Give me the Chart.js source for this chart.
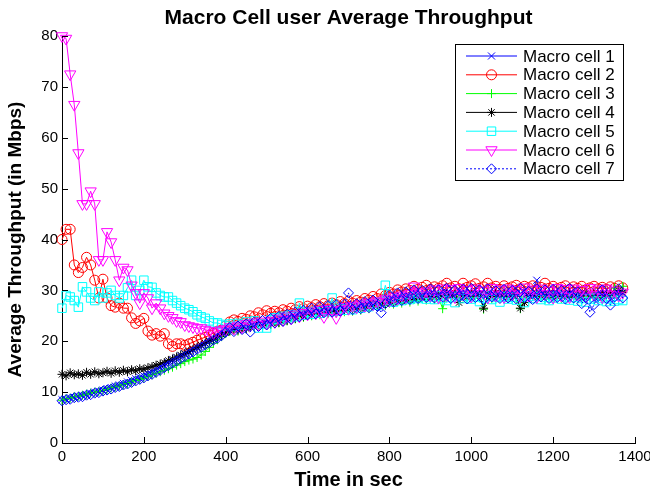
<!DOCTYPE html>
<html>
<head>
<meta charset="utf-8">
<script src="https://cdn.jsdelivr.net/npm/chart.js"></script>
<style>
  html, body { margin: 0; padding: 0; background: #fff; }
</style>
</head>
<body>
<canvas id="chart" width="650" height="487"></canvas>
<script>
const chartTitle = "Macro Cell user Average Throughput";
const xTitle = "Time in sec";
const yTitle = "Average Throughput (in Mbps)";
const labels = ["Macro cell 1", "Macro cell 2", "Macro cell 3", "Macro cell 4", "Macro cell 5", "Macro cell 6", "Macro cell 7"];

// sample times (sec)
const times = [
  0, 10, 20, 30, 40, 50, 60, 70, 80, 90,
  100, 110, 120, 130, 140, 150, 160, 170, 180, 190,
  200, 210, 220, 230, 240, 250, 260, 270, 280, 290,
  300, 310, 320, 330, 340, 350, 360, 370, 380, 390,
  400, 410, 420, 430, 440, 450, 460, 470, 480, 490,
  500, 510, 520, 530, 540, 550, 560, 570, 580, 590,
  600, 610, 620, 630, 640, 650, 660, 670, 680, 690,
  700, 710, 720, 730, 740, 750, 760, 770, 780, 790,
  800, 810, 820, 830, 840, 850, 860, 870, 880, 890,
  900, 910, 920, 930, 940, 950, 960, 970, 980, 990,
  1000, 1010, 1020, 1030, 1040, 1050, 1060, 1070, 1080, 1090,
  1100, 1110, 1120, 1130, 1140, 1150, 1160, 1170, 1180, 1190,
  1200, 1210, 1220, 1230, 1240, 1250, 1260, 1270, 1280, 1290,
  1300, 1310, 1320, 1330, 1340, 1350, 1360, 1370
];

const cell1 = [
  8.5, 8.6, 8.9, 9.0, 9.2, 9.4, 9.5, 9.8, 10.0, 10.2,
  10.4, 10.7, 10.9, 11.2, 11.4, 11.7, 12.0, 12.3, 12.6, 12.9,
  13.2, 13.6, 14.0, 14.4, 14.9, 15.3, 15.8, 16.2, 16.7, 17.1,
  17.5, 17.9, 18.3, 18.8, 19.2, 19.6, 20.1, 20.5, 21.0, 21.4,
  22.1, 22.5, 22.3, 22.9, 22.6, 23.2, 23.0, 23.6, 23.4, 23.9,
  23.6, 24.3, 24.0, 24.6, 24.3, 25.1, 24.7, 25.4, 25.2, 25.8,
  25.5, 26.1, 25.7, 26.3, 25.9, 26.5, 26.1, 26.7, 26.2, 26.9,
  26.4, 27.0, 26.6, 27.3, 27.0, 27.6, 27.2, 28.0, 27.7, 28.4,
  28.0, 29.1, 28.3, 29.5, 28.2, 29.8, 28.6, 30.1, 28.7, 29.9,
  28.4, 30.2, 28.9, 29.8, 28.3, 30.3, 29.0, 29.9, 28.5, 30.4,
  28.8, 30.0, 28.4, 30.2, 29.1, 28.6, 30.3, 28.9, 30.0, 28.4,
  29.9, 30.4, 28.7, 29.8, 28.3, 30.2, 32.0, 28.8, 30.1, 28.6,
  30.3, 28.8, 29.9, 28.4, 30.2, 28.7, 30.0, 28.5, 30.4, 28.9,
  30.0, 28.6, 30.3, 28.8, 30.1, 28.7, 30.2, 29.4
];

const cell2 = [
  40.0, 42.0, 42.0, 35.0, 33.5, 34.5, 36.5, 35.0, 32.0, 28.5,
  32.2, 28.5, 27.0, 26.7, 27.5, 26.5, 26.5, 24.6, 23.5, 24.0,
  24.5, 22.0, 21.2, 21.5, 21.0, 21.5, 19.5, 19.0, 19.5, 19.5,
  19.2, 19.5, 19.8, 20.2, 20.5, 20.8, 21.2, 21.6, 22.0, 22.2,
  23.0, 23.8, 24.2, 23.9, 24.5, 24.3, 25.0, 24.8, 25.6, 25.2,
  26.0, 25.5, 25.9, 25.6, 26.2, 25.9, 26.5, 26.2, 26.8, 26.4,
  26.9, 26.6, 27.2, 26.8, 27.4, 27.0, 27.5, 27.2, 27.8, 27.4,
  27.9, 27.5, 28.0, 27.7, 28.4, 28.1, 28.8, 28.4, 29.3, 29.0,
  29.6, 29.3, 30.1, 29.7, 30.3, 30.0, 30.8, 30.2, 30.6, 31.0,
  30.2, 30.7, 30.4, 30.9, 31.4, 30.5, 30.8, 30.3, 31.4, 30.6,
  30.9, 31.3, 30.4, 30.7, 31.4, 30.5, 30.8, 30.2, 30.9, 30.4,
  30.7, 31.0, 30.3, 30.8, 30.5, 30.9, 30.2, 30.6, 31.4, 30.4,
  30.8, 30.3, 30.6, 30.9, 30.2, 30.7, 30.4, 30.8, 30.1, 30.5,
  30.8, 30.3, 30.6, 30.2, 30.7, 30.4, 30.9, 30.5
];

const cell3 = [
  8.4, 8.7, 8.8, 9.1, 9.2, 9.4, 9.6, 9.8, 10.0, 10.1,
  10.3, 10.5, 10.8, 11.0, 11.2, 11.5, 11.7, 12.0, 12.3, 12.5,
  12.8, 13.1, 13.4, 13.7, 14.0, 14.3, 14.6, 14.9, 15.3, 15.6,
  16.0, 16.3, 16.5, 16.8, 17.3, 18.0, 18.8, 19.6, 20.3, 20.9,
  21.5, 21.9, 22.3, 22.0, 22.6, 22.4, 22.9, 22.7, 23.2, 23.0,
  23.5, 23.3, 23.8, 23.6, 24.2, 24.0, 24.6, 24.4, 25.0, 24.7,
  25.3, 25.0, 25.5, 25.2, 25.7, 25.4, 25.9, 25.6, 26.1, 25.8,
  26.2, 25.9, 26.4, 26.1, 26.7, 26.4, 27.0, 26.8, 27.3, 27.0,
  27.5, 27.3, 27.8, 27.5, 28.0, 27.7, 28.2, 27.9, 28.4, 28.1,
  28.5, 28.2, 28.6, 26.4, 28.8, 28.4, 28.9, 28.5, 28.7, 28.3,
  28.8, 28.4, 28.9, 26.3, 28.6, 28.3, 28.8, 28.5, 29.0, 28.6,
  28.9, 28.4, 26.4, 28.7, 28.5, 29.0, 28.6, 28.8, 28.3, 28.9,
  28.5, 28.8, 28.4, 29.0, 28.6, 28.9, 28.3, 28.7, 29.1, 28.8,
  28.5, 28.9, 28.6, 29.0, 28.7, 30.5, 29.0, 30.8
];

const cell4 = [
  13.5, 13.2, 13.8, 13.4, 13.6, 13.3, 13.9, 13.5, 14.0, 13.6,
  13.8, 14.1, 13.7, 14.2, 13.9, 14.3, 14.0, 14.4, 14.2, 14.6,
  14.5, 14.8, 15.0, 15.3, 15.5, 15.8, 16.2, 16.5, 16.9, 17.3,
  17.6, 18.0, 18.4, 18.8, 19.2, 19.6, 20.0, 20.4, 20.9, 21.3,
  21.7, 22.1, 22.4, 22.2, 22.7, 22.5, 23.0, 22.8, 23.3, 23.1,
  23.6, 23.4, 23.9, 23.7, 24.3, 24.1, 24.7, 24.5, 25.1, 24.9,
  25.4, 25.2, 25.7, 25.5, 25.9, 25.7, 26.1, 25.9, 26.3, 26.1,
  26.5, 26.3, 26.7, 26.5, 27.0, 26.8, 27.3, 27.1, 27.6, 27.4,
  27.9, 27.7, 28.2, 28.0, 28.5, 28.2, 28.7, 28.4, 28.9, 28.6,
  29.0, 28.7, 29.1, 28.8, 29.3, 28.9, 29.2, 27.6, 29.1, 28.8,
  29.3, 28.9, 29.2, 26.5, 29.1, 28.8, 29.4, 28.9, 29.2, 28.7,
  29.1, 28.8, 26.5, 27.6, 29.0, 28.8, 29.2, 28.9, 29.4, 29.0,
  29.2, 28.8, 29.3, 28.9, 29.1, 28.7, 29.2, 28.9, 29.4, 29.0,
  29.3, 28.9, 29.2, 29.0, 29.4, 29.1, 30.0, 29.6
];

const cell5 = [
  26.5, 29.0, 28.7, 28.0, 26.7, 30.7, 29.7, 28.5, 28.0, 29.7,
  28.5, 29.5, 30.0, 29.0, 28.5, 29.0, 30.5, 32.0, 29.0, 30.0,
  32.0, 30.7, 30.6, 29.5, 29.0, 28.7, 28.7, 28.0, 27.5, 27.0,
  26.5, 26.2, 25.8, 25.2, 24.8, 24.5, 24.0, 23.6, 23.6, 23.3,
  23.0, 23.4, 22.9, 23.5, 23.2, 23.8, 23.4, 24.0, 22.6, 23.4,
  22.6, 24.2, 24.6, 24.3, 24.9, 24.6, 25.2, 24.8, 27.5, 25.1,
  25.7, 25.3, 25.9, 25.5, 26.1, 25.8, 28.5, 25.9, 26.5, 26.1,
  26.6, 26.2, 26.8, 26.5, 27.1, 26.8, 27.4, 27.1, 27.7, 31.0,
  28.0, 27.7, 28.3, 28.0, 28.5, 28.2, 28.7, 28.4, 28.8, 28.3,
  28.7, 28.2, 28.9, 28.4, 28.0, 28.6, 27.6, 28.9, 28.4, 28.8,
  28.3, 28.7, 27.8, 28.5, 28.9, 28.2, 28.6, 27.7, 28.8, 28.3,
  28.7, 28.1, 28.6, 27.6, 28.9, 28.4, 28.8, 28.2, 28.6, 28.0,
  28.5, 28.9, 28.3, 28.7, 28.1, 28.6, 27.9, 28.4, 27.7, 28.3,
  28.6, 28.0, 28.4, 27.8, 28.3, 27.9, 28.2, 28.0
];

const cell6 = [
  80.0, 79.5, 72.5, 66.5, 57.0, 47.0, 47.0, 49.5, 47.0, 36.0,
  36.0, 41.5, 39.5, 36.0, 32.0, 34.5, 34.0, 31.0, 29.5, 27.5,
  29.5, 28.5, 26.5, 27.5, 26.5, 25.5, 25.0, 24.6, 24.0, 23.8,
  23.2, 23.0, 22.8, 22.6, 22.6, 22.3, 22.0, 21.6, 22.0, 22.2,
  22.4, 22.8, 22.5, 23.1, 22.8, 23.4, 23.1, 23.7, 23.3, 23.9,
  23.5, 24.1, 23.8, 24.5, 24.2, 24.9, 24.5, 25.3, 24.9, 25.6,
  25.3, 25.9, 25.5, 26.2, 24.8, 26.4, 26.0, 24.6, 26.2, 26.8,
  26.4, 27.0, 26.7, 27.3, 27.0, 27.6, 27.3, 27.9, 27.7, 28.3,
  28.1, 28.7, 28.4, 29.0, 28.7, 29.3, 30.8, 29.6, 29.2, 29.8,
  29.0, 30.2, 28.6, 30.4, 29.1, 30.3, 28.7, 30.5, 29.2, 30.1,
  28.8, 30.4, 29.3, 30.0, 28.6, 30.5, 29.0, 30.2, 28.7, 30.4,
  29.2, 30.1, 28.8, 30.6, 29.0, 30.2, 28.7, 30.4, 29.3, 30.0,
  28.6, 30.5, 29.0, 30.3, 28.7, 30.4, 29.2, 30.1, 28.8, 30.5,
  29.1, 30.2, 28.7, 30.4, 29.2, 30.0, 29.0, 29.6
];

const cell7 = [
  8.3, 8.5, 8.6, 8.9, 9.0, 9.1, 9.4, 9.5, 9.8, 9.9,
  10.2, 10.4, 10.6, 10.9, 11.1, 11.4, 11.6, 11.9, 12.2, 12.5,
  12.8, 13.2, 13.5, 13.9, 14.3, 14.8, 15.2, 15.7, 16.1, 16.6,
  17.0, 17.5, 17.9, 18.4, 18.8, 19.3, 19.7, 20.2, 20.6, 21.1,
  21.8, 22.7, 21.9, 23.0, 22.3, 23.4, 21.8, 23.8, 22.9, 24.1,
  23.2, 24.5, 23.6, 24.9, 23.9, 25.3, 24.3, 25.7, 24.8, 26.1,
  25.2, 26.5, 25.4, 26.8, 25.6, 27.0, 25.7, 27.2, 25.9, 27.3,
  29.5, 26.2, 27.4, 26.4, 27.8, 26.6, 28.1, 26.9, 25.6, 27.4,
  29.1, 27.7, 29.5, 28.0, 29.7, 28.2, 30.1, 28.4, 30.0, 28.6,
  30.3, 28.5, 30.1, 28.7, 30.4, 28.4, 30.0, 28.8, 30.2, 28.3,
  30.4, 28.6, 30.1, 28.2, 30.3, 28.7, 29.9, 28.4, 30.2, 28.5,
  30.0, 28.3, 30.4, 28.6, 29.8, 28.2, 30.3, 28.7, 30.1, 28.4,
  30.2, 28.6, 30.0, 28.3, 30.4, 28.5, 29.7, 27.4, 28.6, 25.7,
  27.2, 28.8, 30.1, 28.4, 27.1, 28.7, 30.3, 28.5
];

const FONT = "'Liberation Sans', Arial, Helvetica, sans-serif";
const clear = "rgba(0,0,0,0)";

function series(values) {
  return times.map((t, i) => ({ x: t, y: values[i] }));
}

function makeDataset(idx, values, color, style, radius, extra) {
  return Object.assign({
    label: labels[idx],
    data: series(values),
    borderColor: color,
    backgroundColor: clear,
    borderWidth: 1,
    pointStyle: style,
    pointRadius: radius,
    pointHoverRadius: radius,
    pointBorderColor: color,
    pointBackgroundColor: clear,
    pointBorderWidth: 1,
    tension: 0,
    clip: false,
    order: 7 - idx,
  }, extra || {});
}

const datasets = [
  makeDataset(0, cell1, "#0000ff", "crossRot", 5),
  makeDataset(1, cell2, "#ff0000", "circle", 5),
  makeDataset(2, cell3, "#00ff00", "cross", 4.5),
  makeDataset(3, cell4, "#000000", "star", 4.5),
  makeDataset(4, cell5, "#00ffff", "rect", 6),
  makeDataset(5, cell6, "#ff00ff", "triangle", 6.5, { pointRotation: 180 }),
  makeDataset(6, cell7, "#0000ff", "rectRot", 5, { borderDash: [2, 2] }),
];

// draws one legend marker (same shapes Chart.js uses for the points)
function legendMarker(ctx, ds, x, y) {
  if (Chart.helpers && Chart.helpers.drawPoint) {
    Chart.helpers.drawPoint(ctx, {
      pointStyle: ds.pointStyle,
      rotation: ds.pointRotation || 0,
      radius: ds.pointRadius,
      borderWidth: 1,
    }, x, y);
  }
}

// title, inward tick marks and the boxed legend in the upper right
const matlabLook = {
  id: "matlabLook",
  afterDraw(chart) {
    const ctx = chart.ctx;
    const area = chart.chartArea;
    const xs = chart.scales.x;
    const ys = chart.scales.y;
    ctx.save();

    ctx.fillStyle = "#000";
    ctx.font = "bold 21px " + FONT;
    ctx.textAlign = "center";
    ctx.textBaseline = "middle";
    ctx.fillText(chartTitle, (area.left + area.right) / 2, 18);

    ctx.strokeStyle = "#000";
    ctx.lineWidth = 1;
    ctx.beginPath();
    xs.ticks.forEach((t) => {
      const px = Math.round(xs.getPixelForValue(t.value)) + 0.5;
      ctx.moveTo(px, area.bottom);
      ctx.lineTo(px, area.bottom - 6);
    });
    ys.ticks.forEach((t) => {
      const py = Math.round(ys.getPixelForValue(t.value)) + 0.5;
      ctx.moveTo(area.left, py);
      ctx.lineTo(area.left + 6, py);
    });
    ctx.stroke();

    // legend
    const bx = 455.5, by = 44.5, bw = 168, bh = 136;
    ctx.fillStyle = "#fff";
    ctx.fillRect(bx, by, bw, bh);
    ctx.strokeStyle = "#000";
    ctx.strokeRect(bx, by, bw, bh);
    ctx.font = "17px " + FONT;
    ctx.textAlign = "left";
    chart.data.datasets.forEach((ds, k) => {
      const y = 56 + k * 18.8;
      ctx.strokeStyle = ds.borderColor;
      ctx.lineWidth = 1;
      ctx.setLineDash(ds.borderDash || []);
      ctx.beginPath();
      ctx.moveTo(466, y);
      ctx.lineTo(517, y);
      ctx.stroke();
      ctx.setLineDash([]);
      ctx.fillStyle = clear;
      legendMarker(ctx, ds, 491.5, y);
      ctx.fillStyle = "#000";
      ctx.fillText(ds.label, 523, y + 1);
    });
    ctx.restore();
  },
};

new Chart(document.getElementById("chart"), {
  type: "line",
  data: { datasets },
  options: {
    responsive: false,
    animation: false,
    devicePixelRatio: 1,
    layout: { padding: { left: 0, right: 15, top: 36, bottom: 0 } },
    plugins: {
      legend: { display: false },
      tooltip: { enabled: false },
      title: { display: false },
    },
    scales: {
      x: {
        type: "linear",
        min: 0,
        max: 1400,
        grid: { display: false, drawTicks: false },
        border: { display: true, color: "#000", width: 1 },
        ticks: {
          stepSize: 200, color: "#000", font: { family: FONT, size: 15 }, padding: 5, maxRotation: 0,
          callback: (v) => String(v),
        },
        title: { display: true, text: xTitle, color: "#000", font: { family: FONT, size: 20, weight: "bold", lineHeight: 1 }, padding: { top: 0, bottom: -3 } },
        afterFit(scale) {
          scale.height = 44;
          scale.paddingLeft = 0;
          scale.paddingRight = 0;
        },
      },
      y: {
        min: 0,
        max: 80,
        grid: { display: false, drawTicks: false },
        border: { display: true, color: "#000", width: 1 },
        ticks: { stepSize: 10, color: "#000", font: { family: FONT, size: 15 }, padding: 4 },
        title: { display: true, text: yTitle, color: "#000", font: { family: FONT, size: 19, weight: "bold", lineHeight: 1 }, padding: { top: 6, bottom: 0 } },
        afterFit(scale) {
          scale.width = 62;
          scale.paddingTop = 0;
          scale.paddingBottom = 0;
        },
      },
    },
  },
  plugins: [matlabLook],
});
</script>
</body>
</html>
